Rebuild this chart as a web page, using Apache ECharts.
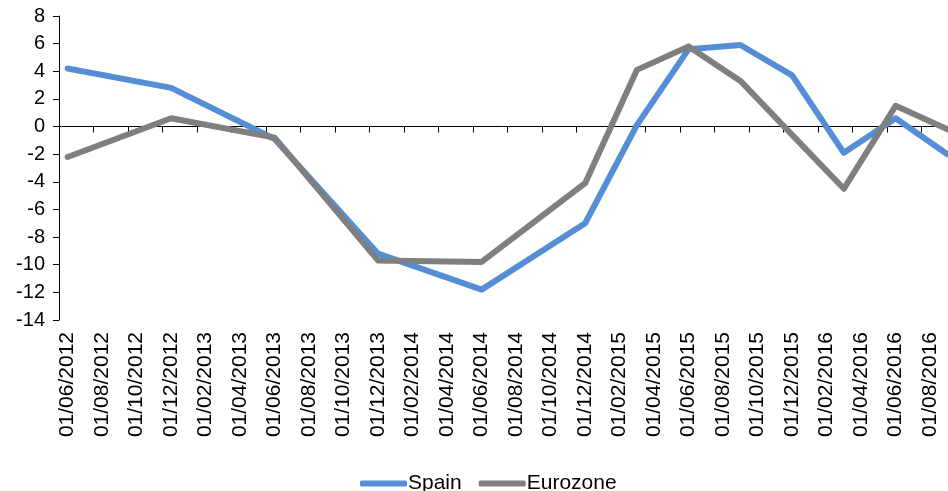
<!DOCTYPE html>
<html>
<head>
<meta charset="utf-8">
<script src="https://cdn.jsdelivr.net/npm/echarts@6/dist/echarts.min.js"></script>
<style>
html,body{margin:0;padding:0;background:#fff;}
#chart{width:948px;height:491px;}
</style>
</head>
<body>
<div id="chart"></div>
<script>
// Monthly category slots (axis labels shown every 2nd month)
const months = [
  "01/06/2012","01/07/2012","01/08/2012","01/09/2012","01/10/2012","01/11/2012","01/12/2012",
  "01/01/2013","01/02/2013","01/03/2013","01/04/2013","01/05/2013","01/06/2013","01/07/2013",
  "01/08/2013","01/09/2013","01/10/2013","01/11/2013","01/12/2013",
  "01/01/2014","01/02/2014","01/03/2014","01/04/2014","01/05/2014","01/06/2014","01/07/2014",
  "01/08/2014","01/09/2014","01/10/2014","01/11/2014","01/12/2014",
  "01/01/2015","01/02/2015","01/03/2015","01/04/2015","01/05/2015","01/06/2015","01/07/2015",
  "01/08/2015","01/09/2015","01/10/2015","01/11/2015","01/12/2015",
  "01/01/2016","01/02/2016","01/03/2016","01/04/2016","01/05/2016","01/06/2016","01/07/2016",
  "01/08/2016","01/09/2016"
];
// Observation dates
const obsDates = ["01/06/2012","01/12/2012","01/06/2013","01/12/2013","01/06/2014","01/12/2014",
  "01/03/2015","01/06/2015","01/09/2015","01/12/2015","01/03/2016","01/06/2016","01/09/2016"];
const spain    = [4.2, 2.8, -0.9, -9.2, -11.8, -7.0, 0.1, 5.6, 5.9, 3.7, -1.9, 0.6, -2.0];
const eurozone = [-2.2, 0.6, -0.8, -9.7, -9.8, -4.1, 4.1, 5.8, 3.3, -0.6, -4.5, 1.5, -0.2];
const yTicks = {min: -14, max: 8, interval: 2};

const font = "Arial, 'Liberation Sans', sans-serif";
const chart = echarts.init(document.getElementById('chart'));
const pair = arr => obsDates.map((d, i) => [d, arr[i]]);

chart.setOption({
  animation: false,
  backgroundColor: '#ffffff',
  grid: {left: 59, top: 16, bottom: 171, width: 897, containLabel: false, outerBoundsMode: 'none'},
  legend: {
    left: 355, top: 468,
    itemWidth: 47, itemHeight: 6, itemGap: 17,
    icon: 'roundRect',
    textStyle: {fontFamily: font, fontSize: 21, color: '#000', padding: [0, 0, 0, -4]},
    data: ['Spain', 'Eurozone']
  },
  xAxis: [{
    type: 'category',
    data: months,
    boundaryGap: true,
    position: 'bottom',
    axisLine: {show: false, onZero: false},
    axisTick: {show: false},
    axisLabel: {
      interval: 1, rotate: 90, margin: 12,
      fontFamily: font, fontSize: 21, color: '#000'
    },
    splitLine: {show: false}
  }, {
    type: 'category',
    data: months,
    boundaryGap: true,
    position: 'bottom',
    axisLine: {show: true, onZero: true, lineStyle: {color: '#000', width: 1}},
    axisTick: {show: true, interval: 1, length: 6, inside: false, lineStyle: {color: '#000'}},
    axisLabel: {show: false},
    splitLine: {show: false}
  }],
  yAxis: {
    type: 'value',
    min: yTicks.min, max: yTicks.max, interval: yTicks.interval,
    axisLine: {show: true, lineStyle: {color: '#000', width: 1}},
    axisTick: {show: true, length: 6, lineStyle: {color: '#000'}},
    axisLabel: {fontFamily: font, fontSize: 20, color: '#000', margin: 14},
    splitLine: {show: false}
  },
  series: [{
    name: 'Spain', type: 'line', xAxisIndex: 0,
    data: pair(spain),
    showSymbol: false, symbol: 'none',
    color: '#558ED5',
    lineStyle: {width: 6, color: '#558ED5', cap: 'round', join: 'round'}
  }, {
    name: 'Eurozone', type: 'line', xAxisIndex: 0,
    data: pair(eurozone),
    showSymbol: false, symbol: 'none',
    color: '#7F7F7F',
    lineStyle: {width: 6, color: '#7F7F7F', cap: 'round', join: 'round'}
  }]
});
</script>
</body>
</html>
